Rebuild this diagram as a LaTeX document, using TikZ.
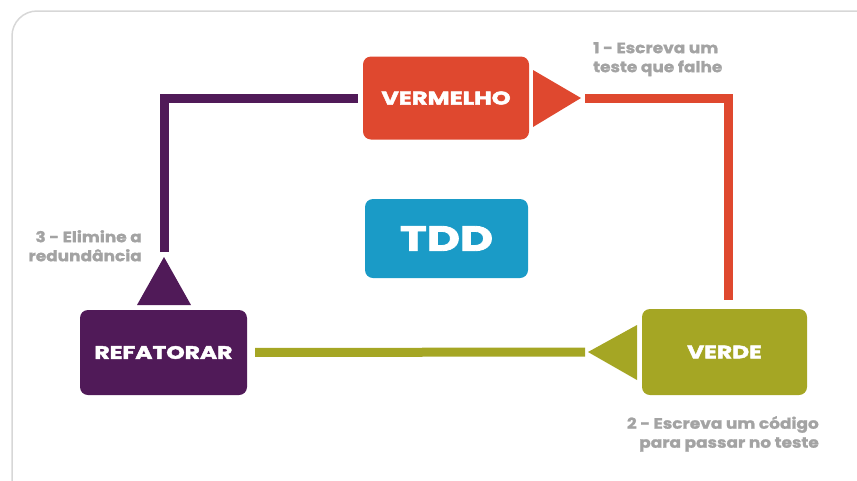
\documentclass[tikz,border=0pt]{standalone}
\usepackage{fontspec}
\setmainfont{Poppins}
\definecolor{tddred}{RGB}{223,72,47}
\definecolor{tddgreen}{RGB}{165,166,36}
\definecolor{tddpurple}{RGB}{80,26,88}
\definecolor{tddblue}{RGB}{26,155,199}
\definecolor{notegray}{RGB}{163,163,163}
\definecolor{framegray}{RGB}{215,215,215}
% heavy, wide lettering for the boxes and the notes
\newcommand{\heavyface}{\bfseries\addfontfeatures{FakeBold=2.5,FakeStretch=1.3}}
\newcommand{\noteface}{\bfseries\addfontfeatures{FakeBold=1.5,FakeStretch=1.13}}
\begin{document}
\begin{tikzpicture}[x=1pt,y=-1pt,
  stagebox/.style={rounded corners=8pt, inner sep=0pt, text=white,
    font=\fontsize{18}{20}\selectfont\heavyface},
  flow/.style={line width=9pt},
  note/.style={text=notegray, inner sep=0pt,
    font=\fontsize{15}{19}\selectfont\noteface}]
  \useasboundingbox (0,0) rectangle (857,480);
  % outer frame, partly cut off at the right and bottom
  \draw[framegray, line width=1.5pt, rounded corners=25pt] (12,11) rectangle (900,520);

  % stage boxes
  \node[stagebox, fill=tddred, minimum width=166pt, minimum height=83pt,
        font=\fontsize{18.5}{20}\selectfont\heavyface] (verm) at (446,98) {VERMELHO};
  \node[stagebox, fill=tddblue, minimum width=163pt, minimum height=79pt,
        font=\fontsize{35}{38}\selectfont\heavyface] (tdd) at (446.5,238.5) {TDD};
  \node[stagebox, fill=tddgreen, minimum width=165pt, minimum height=86pt] (verde) at (724.5,352) {VERDE};
  \node[stagebox, fill=tddpurple, minimum width=167pt, minimum height=85pt] (refat) at (163.5,352.5) {REFATORAR};

  % arrow heads as triangles, with their tips named
  \fill[tddred] (533,70) -- (533,127) -- (581,98) -- cycle;
  \coordinate (tipR) at (581,98);
  \fill[tddgreen] (637,325) -- (637,380) -- (588,352) -- cycle;
  \coordinate (tipG) at (588,352);
  \fill[tddpurple] (137,305) -- (191,305) -- (164,257) -- cycle;
  \coordinate (tipP) at (164,257);

  % connectors
  \draw[flow, tddred, shorten <=4pt, shorten >=9pt] (tipR) -| ([xshift=4pt]verde.north);
  \draw[flow, tddgreen, shorten <=3pt, shorten >=8pt] (tipG) -- (refat.east);
  \draw[flow, tddpurple, shorten <=5pt, shorten >=5pt] (tipP) |- (verm.west);

  % step notes
  \node[note, anchor=north west, align=left] (n1) at (593,42) {1 - Escreva um\\teste que falhe};
  \node[note, anchor=north east, align=right] (n3) at (142,230) {3 - Elimine a\\redundância};
  \node[note, anchor=north east, align=right] (n2) at (819,416) {2 - Escreva um código\\para passar no teste};
\end{tikzpicture}
\end{document}
